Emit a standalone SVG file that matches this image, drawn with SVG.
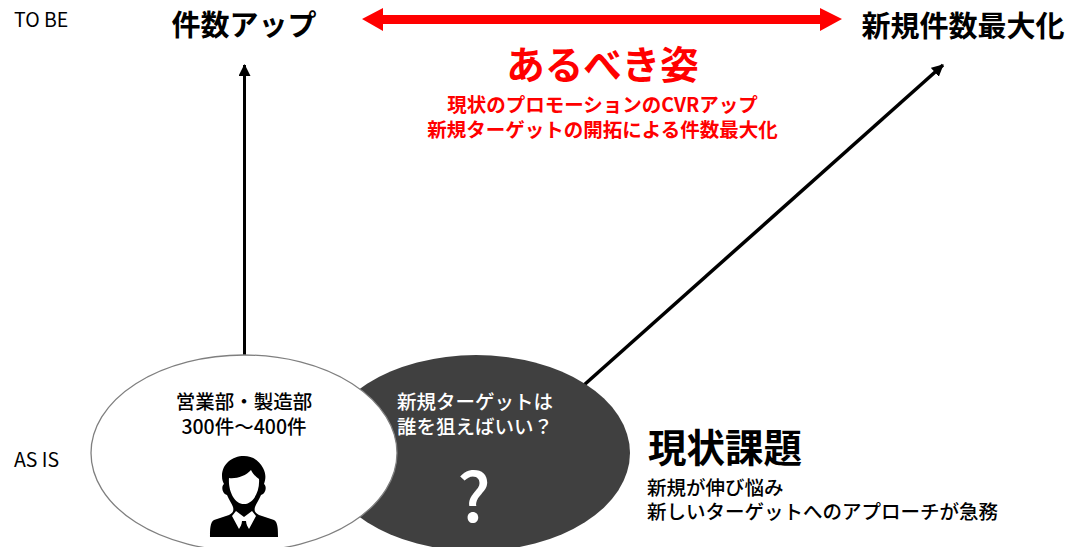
<svg xmlns="http://www.w3.org/2000/svg" width="1069" height="547" viewBox="0 0 1069 547">
<style>
text{font-family:"Noto Sans CJK JP","Liberation Sans",sans-serif;fill:#000}
.m{text-anchor:middle}
.b{font-weight:700}
.r{fill:#f00;font-weight:700}
.w{fill:#fff}
.s{font-size:19.500px;font-weight:500}
.l{font-size:19.500px;font-weight:400}
</style>
<defs>
<marker id="ah" markerUnits="userSpaceOnUse" markerWidth="12" markerHeight="14" refX="11" refY="6" orient="auto"><path d="M0 0L12 6L0 12Z" fill="#000"/></marker>
</defs>
<rect width="1069" height="547" fill="#fff"/>
<g id="connectors">
<line x1="244.500" y1="356" x2="244.500" y2="65" stroke="#000" stroke-width="3" marker-end="url(#ah)"/>
<line x1="584" y1="385" x2="943" y2="65" stroke="#000" stroke-width="3.500" marker-end="url(#ah)"/>
<path d="M362 19L383 8V15H820V8L842 19L820 31V24H383V31Z" fill="#f00"/>
</g>
<g id="label-tobe"><text x="14" y="27" class="l">TO BE</text></g>
<g id="label-asis"><text x="14" y="467" class="l">AS IS</text></g>
<g id="goal-left"><text x="244" y="36" class="m b" font-size="29">件数アップ</text></g>
<g id="goal-right"><text x="963" y="37" class="m b" font-size="29">新規件数最大化</text></g>
<g id="ideal">
<text x="602.500" y="79" class="m r" font-size="38.500">あるべき姿</text>
<text x="602.500" y="112" class="m r" font-size="19.500">現状のプロモーションのCVRアップ</text>
<text x="602.500" y="137" class="m r" font-size="19.500">新規ターゲットの開拓による件数最大化</text>
</g>
<g id="node-new">
<ellipse cx="476" cy="453" rx="154" ry="98" fill="#404040"/>
<text x="475" y="409" class="m w s">新規ターゲットは</text>
<text x="475" y="434" class="m w s">誰を狙えばいい？</text>
<text x="474" y="522" class="m" font-size="68" style="fill:#fff;font-weight:500">?</text>
</g>
<g id="node-sales">
<ellipse cx="244" cy="453" rx="153" ry="98" fill="#fff" stroke="#7f7f7f" stroke-width="1.300"/>
<text x="244" y="409" class="m s">営業部・製造部</text>
<text x="244" y="434" class="m s">300件～400件</text>
<g id="person" fill="#000">
<path d="M244 456C232 456 222 464 222 476C222 480 223 482 224 484C221 486 222 494 227 495C229 500 232 504 233 507C234 511 233 513 229 515L214 520C210 522 210 530 210 537H278C278 530 278 522 274 520L259 515C255 513 254 511 255 507C256 504 259 500 261 495C266 494 267 486 264 484C266 478 266 474 263 468C259 460 252 456 244 456Z"/>
<path d="M229 478C236 479 246 476 251 470C253 474 256 477 259 479C260 490 254 504 244 504C234 504 228 490 229 478Z" fill="#fff"/>
<path d="M236 511L244 517L252 511L256 516L249 529L245 522H243L239 529L232 516Z" fill="#fff"/>
<path d="M242 521H246L247 528L244 533L241 528Z"/>
</g>
</g>
<g id="issue">
<text x="648" y="462" font-size="38.500" class="b">現状課題</text>
<text x="647" y="495" class="s">新規が伸び悩み</text>
<text x="647" y="519" class="s">新しいターゲットへのアプローチが急務</text>
</g>
</svg>
